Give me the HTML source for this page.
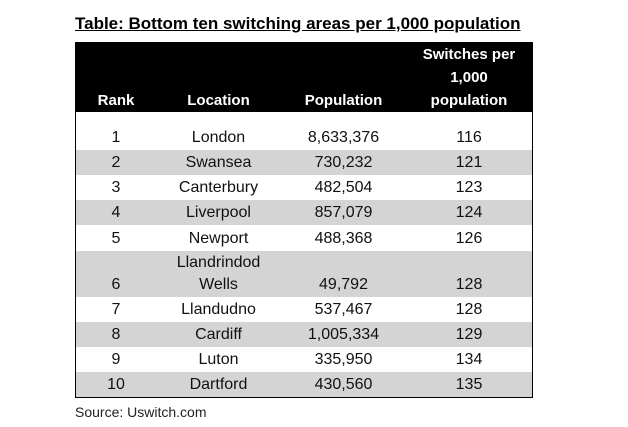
<!DOCTYPE html>
<html><head><meta charset="utf-8"><style>
body{margin:0;width:628px;height:427px;background:#fff;font-family:"Liberation Sans",Arial,sans-serif;position:relative;overflow:hidden}
.title{position:absolute;left:75px;top:14px;font-size:17px;font-weight:bold;text-decoration:underline;color:#000;white-space:nowrap}
.src{position:absolute;left:75px;top:404px;font-size:14px;color:#222}
.c{position:absolute;box-sizing:border-box;display:flex;align-items:flex-end;justify-content:center;text-align:center;font-size:16px;color:#111;line-height:22px;padding-bottom:1px;border-right:1px solid #000;border-bottom:1px solid #000}
.h{background:#000;color:#fff;font-weight:bold;font-size:15px;line-height:23px;padding-bottom:0px;border-color:#000}
</style></head><body>
<div class="title">Table: Bottom ten switching areas per 1,000 population</div>
<div id="t"></div>
<div class="src">Source: Uswitch.com</div>
<script>
const ranks=["1","2","3","4","5","6","7","8","9","10"];
const locations=["London","Swansea","Canterbury","Liverpool","Newport","Llandrindod<br>Wells","Llandudno","Cardiff","Luton","Dartford"];
const populations=["8,633,376","730,232","482,504","857,079","488,368","49,792","537,467","1,005,334","335,950","430,560"];
const switches=["116","121","123","124","126","128","128","129","134","135"];
const cols=[75,156,281,406,532];
const rowTops=[112,150,175,200,225,251,297,322,347,372,397];
const t=document.getElementById('t');
function cell(x0,x1,y0,y1,html,cls,name){
 const d=document.createElement('div');
 d.className='c '+cls;
 d.style.left=x0+'px';d.style.top=y0+'px';d.style.width=(x1-x0+1)+'px';d.style.height=(y1-y0+1)+'px';
 d.innerHTML=html;
 
 
 t.appendChild(d);return d;
}
const heads=["Rank","Location","Population","Switches per<br>1,000<br>population"];
for(let j=0;j<4;j++){const d=cell(cols[j],cols[j+1],42,112,heads[j],'h','header-cell');if(j==0){d.style.borderLeft='1px solid #000';d.style.borderRight='1px solid #ccc';}}
for(let i=0;i<10;i++){
 const vals=[ranks[i],locations[i],populations[i],switches[i]];
 for(let j=0;j<4;j++){
  const d=cell(cols[j],cols[j+1],rowTops[i],rowTops[i+1],vals[j],'','table-cell');
  d.style.background=i%2?'#d4d4d4':'#fff';
  if(j==0)d.style.borderLeft='1px solid #000';
 }
}
</script>
</body></html>
